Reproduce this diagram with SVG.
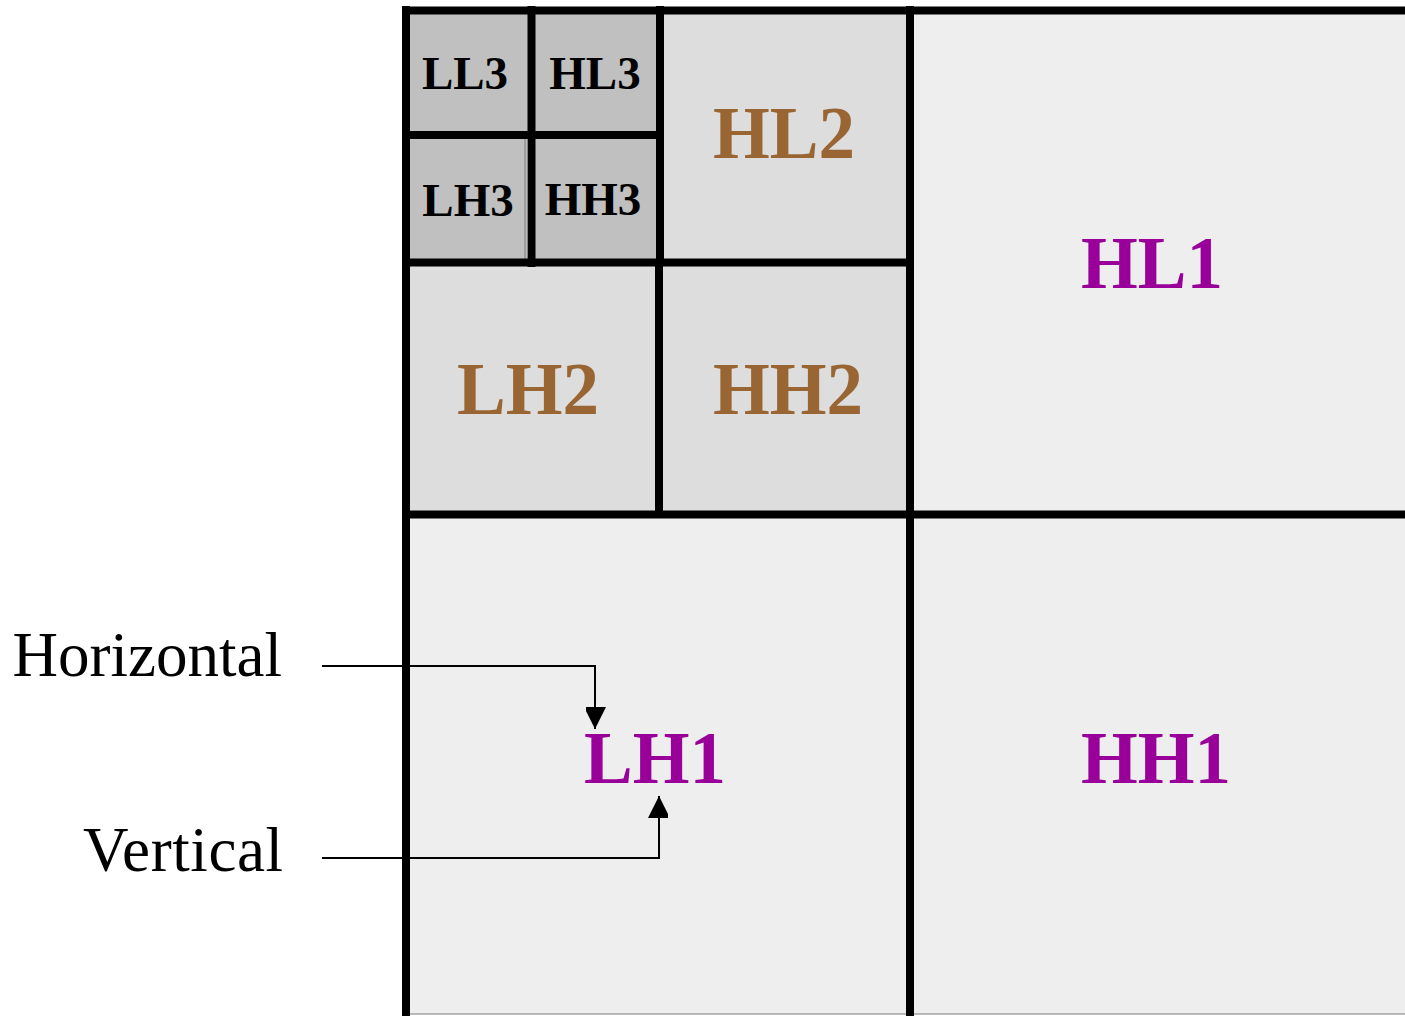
<svg xmlns="http://www.w3.org/2000/svg" width="1405" height="1016" viewBox="0 0 1405 1016">
  <defs>
    <style>
      .l1 { fill: #eeeeee; stroke: #7a7a7a; stroke-width: 1; }
      .l2 { fill: #dddddd; stroke: #7a7a7a; stroke-width: 1; }
      .l3 { fill: #c0c0c0; stroke: #7a7a7a; stroke-width: 1; }
      .grid { stroke: #000; stroke-width: 8; fill: none; stroke-linecap: square; }
      .t3 { font-family: "Liberation Serif", "Times New Roman", serif; font-weight: bold; font-size: 47px; fill: #000; text-anchor: middle; }
      .t2 { font-family: "Liberation Serif", "Times New Roman", serif; font-weight: bold; font-size: 73px; fill: #996633; text-anchor: middle; }
      .t1 { font-family: "Liberation Serif", "Times New Roman", serif; font-weight: bold; font-size: 73px; fill: #990099; text-anchor: middle; }
      .lbl { font-family: "Liberation Serif", "Times New Roman", serif; font-size: 63px; fill: #000; text-anchor: end; }
      .conn { stroke: #000; stroke-width: 2; fill: none; }
    </style>
    <marker id="arrow" viewBox="0 0 22 20" refX="22" refY="11" markerWidth="22" markerHeight="20" markerUnits="userSpaceOnUse" orient="auto">
      <path d="M0,0 L22,11 L0,22 Z" fill="#000"/>
    </marker>
  </defs>

  <rect width="1405" height="1016" fill="#ffffff"/>

  <!-- first-level subbands -->
  <g id="HL1">
    <rect class="l1" x="910" y="10" width="500" height="504"/>
    <text class="t1" x="1152" y="288">HL1</text>
  </g>
  <g id="LH1">
    <rect class="l1" x="406" y="514" width="504" height="500"/>
    <text class="t1" x="655" y="783">LH1</text>
  </g>
  <g id="HH1">
    <rect class="l1" x="910" y="514" width="500" height="500"/>
    <text class="t1" x="1156" y="783">HH1</text>
  </g>

  <!-- second-level subbands -->
  <g id="HL2">
    <rect class="l2" x="660" y="10" width="250" height="252"/>
    <text class="t2" x="784" y="158">HL2</text>
  </g>
  <g id="LH2">
    <rect class="l2" x="406" y="263" width="253" height="251"/>
    <text class="t2" x="528" y="414">LH2</text>
  </g>
  <g id="HH2">
    <rect class="l2" x="659" y="262" width="251" height="252"/>
    <text class="t2" x="788" y="414">HH2</text>
  </g>

  <!-- third-level subbands -->
  <g id="LL3">
    <rect class="l3" x="406" y="10" width="125" height="125"/>
    <text class="t3" x="465" y="89">LL3</text>
  </g>
  <g id="HL3">
    <rect class="l3" x="531" y="10" width="129" height="125"/>
    <text class="t3" x="595" y="89">HL3</text>
  </g>
  <g id="LH3">
    <rect class="l3" x="406" y="135" width="119" height="128"/>
    <line x1="526" y1="139" x2="526" y2="259" stroke="#7a7a7a" stroke-width="1"/>
    <text class="t3" x="468" y="216">LH3</text>
  </g>
  <g id="HH3">
    <rect class="l3" x="531" y="135" width="129" height="128"/>
    <text class="t3" x="593" y="215">HH3</text>
  </g>

  <!-- partition lines -->
  <g id="grid">
    <line class="grid" x1="406" y1="10.5" x2="1410" y2="10.5"/>
    <line class="grid" x1="406" y1="10" x2="406" y2="1020"/>
    <line class="grid" x1="910" y1="10" x2="910" y2="1020"/>
    <line class="grid" x1="406" y1="514.5" x2="1410" y2="514.5"/>
    <line class="grid" x1="406" y1="262.5" x2="910" y2="262.5"/>
    <line class="grid" x1="660" y1="10" x2="660" y2="262"/>
    <line class="grid" x1="659" y1="263" x2="659" y2="514"/>
    <line class="grid" x1="406" y1="135" x2="660" y2="135"/>
    <line class="grid" x1="531.5" y1="10" x2="531.5" y2="263"/>
  </g>

  <!-- direction labels -->
  <g id="label-horizontal">
    <text class="lbl" x="282" y="676">Horizontal</text>
  </g>
  <g id="label-vertical">
    <text class="lbl" x="283" y="871" textLength="200" lengthAdjust="spacing">Vertical</text>
  </g>

  <!-- connectors -->
  <g id="connectors">
    <path class="conn" d="M322,666 H595 V729" marker-end="url(#arrow)"/>
    <path class="conn" d="M322,858 H659 V796" marker-end="url(#arrow)"/>
  </g>
</svg>
